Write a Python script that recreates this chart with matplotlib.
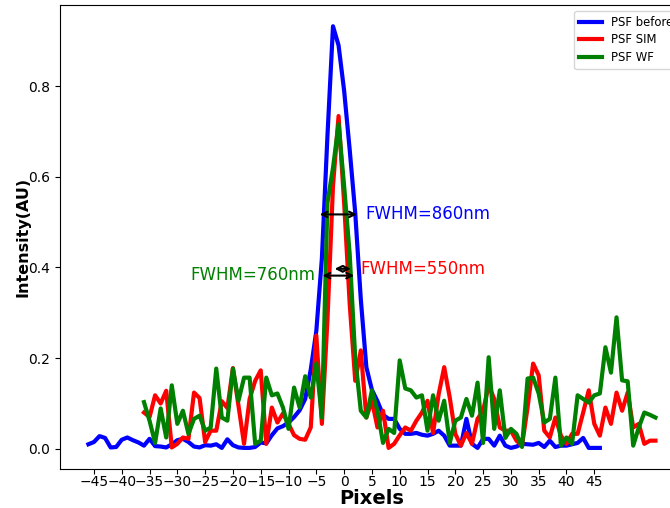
import numpy as np
import matplotlib
matplotlib.use('Agg')
import matplotlib.pyplot as plt

# PSF profiles (one value per pixel)
blue_start = -46
psf_before = [0.010, 0.015, 0.028, 0.024, 0.003, 0.004, 0.020, 0.025, 0.019, 0.014,
              0.007, 0.022, 0.006, 0.005, 0.003, 0.010, 0.019, 0.022, 0.015, 0.005,
              0.003, 0.008, 0.007, 0.010, 0.002, 0.021, 0.008, 0.003, 0.002, 0.002,
              0.004, 0.014, 0.012, 0.030, 0.045, 0.050, 0.058, 0.070, 0.085, 0.110,
              0.175, 0.260, 0.420, 0.690, 0.932, 0.890, 0.790, 0.660, 0.520, 0.330,
              0.180, 0.130, 0.105, 0.075, 0.066, 0.066, 0.044, 0.033, 0.033, 0.035,
              0.031, 0.029, 0.033, 0.040, 0.029, 0.007, 0.007, 0.007, 0.066, 0.011,
              0.002, 0.022, 0.022, 0.007, 0.029, 0.007, 0.002, 0.005, 0.011, 0.010,
              0.009, 0.013, 0.004, 0.018, 0.004, 0.007, 0.007, 0.010, 0.013, 0.024,
              0.002, 0.002, 0.002]

sim_start = -36
psf_sim = [0.080, 0.070, 0.118, 0.100, 0.128, 0.003, 0.011, 0.025, 0.022, 0.124,
           0.112, 0.015, 0.040, 0.040, 0.105, 0.090, 0.178, 0.095, 0.011, 0.110,
           0.150, 0.173, 0.011, 0.091, 0.058, 0.078, 0.055, 0.030, 0.022, 0.020,
           0.047, 0.250, 0.055, 0.284, 0.580, 0.734, 0.543, 0.320, 0.150, 0.217,
           0.069, 0.106, 0.047, 0.084, 0.002, 0.011, 0.030, 0.047, 0.040, 0.062,
           0.080, 0.106, 0.035, 0.120, 0.180, 0.113, 0.033, 0.007, 0.035, 0.011,
           0.066, 0.084, 0.140, 0.110, 0.047, 0.040, 0.040, 0.018, 0.007, 0.091,
           0.188, 0.162, 0.040, 0.025, 0.069, 0.029, 0.011, 0.033, 0.033, 0.080,
           0.129, 0.055, 0.029, 0.091, 0.055, 0.124, 0.084, 0.124, 0.047, 0.055,
           0.011, 0.018, 0.018]

psf_wf = [0.103, 0.062, 0.013, 0.089, 0.025, 0.140, 0.055, 0.084, 0.033, 0.066,
          0.073, 0.040, 0.047, 0.177, 0.069, 0.062, 0.177, 0.106, 0.157, 0.157,
          0.011, 0.018, 0.157, 0.118, 0.122, 0.091, 0.044, 0.135, 0.091, 0.160,
          0.113, 0.188, 0.069, 0.543, 0.620, 0.716, 0.580, 0.430, 0.200, 0.084,
          0.069, 0.129, 0.084, 0.013, 0.044, 0.035, 0.195, 0.133, 0.129, 0.113,
          0.118, 0.040, 0.118, 0.062, 0.106, 0.013, 0.062, 0.069, 0.110, 0.073,
          0.146, 0.013, 0.202, 0.044, 0.129, 0.024, 0.044, 0.033, 0.004, 0.155,
          0.157, 0.122, 0.058, 0.066, 0.157, 0.007, 0.025, 0.011, 0.118, 0.110,
          0.102, 0.118, 0.122, 0.224, 0.168, 0.290, 0.151, 0.149, 0.007, 0.047,
          0.080, 0.075, 0.069]

x_before = np.arange(len(psf_before)) + blue_start
x_sim = np.arange(len(psf_sim)) + sim_start
x_wf = np.arange(len(psf_wf)) + sim_start

fig = plt.figure(figsize=(6.7, 5.08), dpi=100)
ax = fig.add_axes([0.0896, 0.0768, 0.931, 0.913])

ax.plot(x_before, psf_before, color='blue', lw=3, label='PSF before')
ax.plot(x_sim, psf_sim, color='red', lw=3, label='PSF SIM')
ax.plot(x_wf, psf_wf, color='green', lw=3, label='PSF WF')

# FWHM markers
arr = dict(arrowstyle='<->', color='black', lw=1.5, shrinkA=0, shrinkB=0)
ax.annotate('', xy=(-4.4, 0.517), xytext=(2.3, 0.517), arrowprops=arr)
ax.annotate('', xy=(-1.7, 0.397), xytext=(1.2, 0.397), arrowprops=arr)
ax.annotate('', xy=(-3.9, 0.382), xytext=(1.8, 0.382), arrowprops=arr)
ax.text(3.9, 0.517, 'FWHM=860nm', color='blue', fontsize=12, va='center', ha='left')
ax.text(3.0, 0.397, 'FWHM=550nm', color='red', fontsize=12, va='center', ha='left')
ax.text(-5.1, 0.384, 'FWHM=760nm', color='green', fontsize=12, va='center', ha='right')

ax.set_xticks(np.arange(-45, 50, 5))
ax.set_yticks([0.0, 0.2, 0.4, 0.6, 0.8])
ax.tick_params(axis='x', pad=1)
ax.set_xlabel('Pixels', fontsize=14, fontweight='bold', labelpad=0)
ax.set_ylabel('Intensity(AU)', fontsize=11.5, fontweight='bold', labelpad=-1.5)
ax.legend(loc='upper right', fontsize='small', labelspacing=0.42)

fig.savefig('out.png', dpi=100)
